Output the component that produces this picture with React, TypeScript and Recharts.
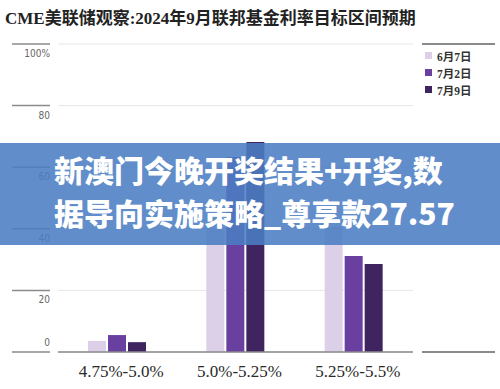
import React from 'react';
import { BarChart, Bar, XAxis, YAxis, CartesianGrid } from 'recharts';

const categories = ['4.75%-5.0%', '5.0%-5.25%', '5.25%-5.5%'];
const june7 = [3.6, 40, 40.6];
const july2 = [5.5, 63.3, 31.2];
const july9 = [3.2, 68.2, 28.6];
const yTicks = [0, 20, 40, 60, 80, 100];

const seriesNames = ['6月7日', '7月2日', '7月9日'];
const seriesColors = ['#dcd0e9', '#693f9f', '#3f2460'];

const data = categories.map((c, i) => ({
  name: c,
  june7: june7[i],
  july2: july2[i],
  july9: july9[i],
}));

const YTick = (props: any) => {
  const { y, payload } = props;
  const v = payload.value;
  const label = v === 100 ? '100%' : String(v);
  return (
    <g>
      <line x1={12} x2={50} y1={y} y2={y} stroke="#8a8a8a" strokeWidth={1.5} />
      <text
        x={50}
        y={v === 0 ? y - 6 : y + 13}
        textAnchor="end"
        fontSize={10}
        fill="#666"
        fontFamily="'Liberation Sans Narrow', 'DejaVu Sans Condensed', sans-serif"
      >
        {label}
      </text>
    </g>
  );
};

const XTick = (props: any) => {
  const { x, y, payload } = props;
  return (
    <text
      x={x + 4}
      y={y + 17}
      textAnchor="middle"
      fontSize={17}
      fill="#2a2a2a"
      fontFamily="'Liberation Serif', serif"
    >
      {payload.value}
    </text>
  );
};

const LegendBox = () => (
  <div
    style={{
      position: 'absolute',
      left: 425,
      top: 47,
      fontFamily: "'Liberation Serif', 'Noto Sans CJK SC', serif",
    }}
  >
    {seriesNames.map((n, i) => (
      <div
        key={n}
        style={{ display: 'flex', alignItems: 'center', height: 17, fontSize: 11.5, fontWeight: 700, color: '#333' }}
      >
        <span style={{ width: 7, height: 7, background: seriesColors[i], marginRight: 5, display: 'inline-block' }} />
        {n}
      </div>
    ))}
  </div>
);

export default function App(): React.JSX.Element {
  return (
    <div
      style={{
        position: 'absolute',
        left: 0,
        top: 0,
        width: 500,
        height: 389,
        background: '#fff',
        overflow: 'hidden',
      }}
    >
      <div
        style={{
          position: 'absolute',
          left: 5,
          top: 4,
          fontSize: 17,
          fontWeight: 700,
          color: '#222',
          fontFamily: "'Liberation Serif', 'Noto Sans CJK SC', serif",
          whiteSpace: 'nowrap',
        }}
      >
        CME美联储观察:2024年9月联邦基金利率目标区间预期
      </div>
      <div style={{ position: 'absolute', left: 422, top: 43, width: 73, height: 2, background: '#8a8a8a' }} />
      <div style={{ position: 'absolute', left: 422, top: 351, width: 73, height: 1.5, background: '#8a8a8a' }} />
      <div style={{ position: 'absolute', left: 0, top: 0 }}>
        <BarChart
          width={500}
          height={389}
          data={data}
          margin={{ top: 44, right: 87, left: 8, bottom: 0 }}
          barSize={18}
          barGap={2}
        >
          <CartesianGrid horizontal vertical={false} stroke="#e6e6e6" />
          <XAxis
            dataKey="name"
            axisLine={{ stroke: '#8a8a8a', strokeWidth: 1.5 }}
            tickLine={false}
            tick={<XTick />}
            height={37}
          />
          <YAxis
            domain={[0, 100]}
            ticks={yTicks}
            axisLine={false}
            tickLine={false}
            width={50}
            tick={<YTick />}
          />
          <Bar dataKey="june7" name={seriesNames[0]} fill={seriesColors[0]} isAnimationActive={false} />
          <Bar dataKey="july2" name={seriesNames[1]} fill={seriesColors[1]} isAnimationActive={false} />
          <Bar dataKey="july9" name={seriesNames[2]} fill={seriesColors[2]} isAnimationActive={false} />
        </BarChart>
      </div>
      <LegendBox />
      <div
        style={{
          position: 'absolute',
          left: 0,
          top: 143,
          width: 500,
          height: 102,
          background: 'rgba(75,125,195,0.88)',
          color: '#fff',
          fontWeight: 900,
          fontSize: 30,
          lineHeight: '43px',
          paddingTop: 5,
          paddingLeft: 54,
          boxSizing: 'border-box',
          fontFamily: "'Noto Sans CJK SC', sans-serif",
          whiteSpace: 'nowrap',
        }}
      >
        <div>新澳门今晚开奖结果+开奖,数</div>
        <div>据导向实施策略_尊享款27.57</div>
      </div>
    </div>
  );
}
